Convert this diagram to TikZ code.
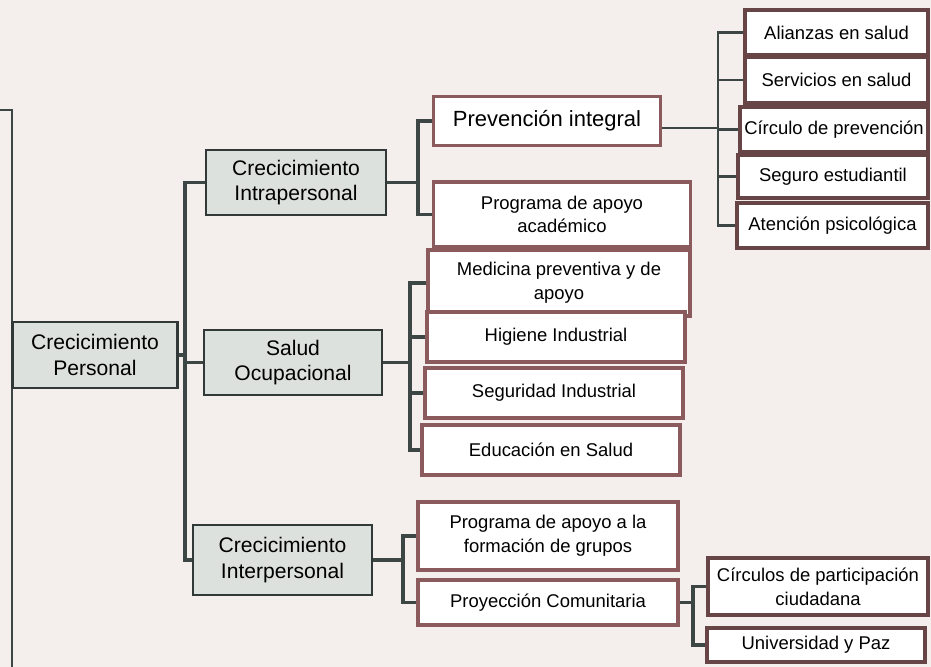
\documentclass[tikz,border=0pt]{standalone}
\usepackage{fontspec}
\setmainfont{Liberation Sans}
\definecolor{paper}{HTML}{F4EFED}
\definecolor{rama}{HTML}{3C4745}
\definecolor{grisbox}{HTML}{DCE1DE}
\definecolor{marron}{HTML}{8A5A5C}
\begin{document}
\begin{tikzpicture}[
            raiz/.style={rectangle,draw=rama!80!black,line width=1.4pt,fill=grisbox,
                    align=center,inner sep=2pt,font=\fontsize{12}{14.5}\selectfont},
            tema/.style={rectangle,draw=marron,line width=2pt,fill=white,
                    align=center,inner sep=2pt,font=\fontsize{10.5}{13.5}\selectfont},
            hoja/.style={rectangle,draw=marron!75!black,line width=1.8pt,fill=white,
                    align=center,inner sep=2pt,font=\fontsize{10.5}{13.5}\selectfont},
            conn/.style={draw=rama,line width=1.8pt},
        ]

        % Paper
        \fill[paper] (0,0) rectangle (18.62,-13.34);
        \useasboundingbox (0,0) rectangle (18.62,-13.34);

        % Cut edge on the left
        \draw[rama,line width=1.4pt] (0,-2.2) -- (0.24,-2.2) -- (0.24,-13.34);

        % Level 1
        \node[raiz,minimum width=3.3cm,minimum height=1.32cm] (per) at (1.9,-7.1) {Crecicimiento\\Personal};

        % Level 2
        \node[raiz,minimum width=3.6cm,minimum height=1.3cm] (intra) at (5.92,-3.65) {Crecicimiento\\Intrapersonal};
        \node[raiz,minimum width=3.56cm,minimum height=1.3cm] (salud) at (5.86,-7.25) {Salud\\Ocupacional};
        \node[raiz,minimum width=3.58cm,minimum height=1.4cm] (inter) at (5.65,-11.2) {Crecicimiento\\Interpersonal};

        % Level 3
        \node[tema,minimum width=4.54cm,minimum height=0.98cm,font=\fontsize{12.5}{15}\selectfont] (prev) at (10.94,-2.42) {Prevención integral};
        \node[tema,minimum width=5.14cm,minimum height=1.3cm] (acad) at (11.24,-4.29) {Programa de apoyo\\académico};
        \node[tema,minimum width=5.24cm,minimum height=1.32cm] (med) at (11.18,-5.66) {Medicina preventiva y de\\apoyo};
        \node[tema,minimum width=5.16cm,minimum height=1.0cm] (hig) at (11.12,-6.74) {Higiene Industrial};
        \node[tema,minimum width=5.16cm,minimum height=1.0cm] (seg) at (11.08,-7.86) {Seguridad Industrial};
        \node[tema,minimum width=5.16cm,minimum height=1.0cm] (edu) at (11.02,-9.0) {Educación en Salud};
        \node[tema,minimum width=5.2cm,minimum height=1.36cm] (grupos) at (10.96,-10.72) {Programa de apoyo a la\\formación de grupos};
        \node[tema,minimum width=5.2cm,minimum height=0.9cm] (proy) at (10.96,-12.05) {Proyección Comunitaria};

        % Level 4
        \node[hoja,minimum width=3.66cm,minimum height=0.9cm] (ali) at (16.73,-0.65) {Alianzas en salud};
        \node[hoja,minimum width=3.66cm,minimum height=0.92cm] (serv) at (16.73,-1.6) {Servicios en salud};
        \node[hoja,minimum width=3.76cm,minimum height=0.9cm] (circ) at (16.68,-2.59) {Círculo de prevención};
        \node[hoja,minimum width=3.8cm,minimum height=0.86cm] (seguro) at (16.66,-3.53) {Seguro estudiantil};
        \node[hoja,minimum width=3.82cm,minimum height=0.9cm] (aten) at (16.65,-4.51) {Atención psicológica};
        \node[hoja,minimum width=4.4cm,minimum height=1.14cm] (cpart) at (16.36,-11.73) {Círculos de participación\\ciudadana};
        \node[hoja,minimum width=4.36cm,minimum height=0.68cm] (univ) at (16.32,-12.9) {Universidad y Paz};

        % Junctions
        \coordinate (j1) at (3.7,-7.1);
        \coordinate (j2) at (8.36,-3.65);
        \coordinate (j3) at (8.2,-7.25);
        \coordinate (j4) at (8.06,-11.2);
        \coordinate (j5) at (14.36,-2.56);
        \coordinate (j6) at (13.86,-12.05);

        % Connectors
        \draw[conn] (per.east) -- (j1);
        \draw[conn] (intra.west) -| (j1) |- (inter.west);
        \draw[conn] (salud.west) -- (salud.west -| j1);

        \draw[conn] (intra.east) -- (j2);
        \draw[conn] (prev.west) -| (j2) |- (acad.west);

        \draw[conn] (salud.east) -- (j3);
        \draw[conn] (med.west) -| (j3) |- (edu.west);
        \draw[conn] (hig.west) -- (hig.west -| j3);
        \draw[conn] (seg.west) -- (seg.west -| j3);

        \draw[conn] (inter.east) -- (j4);
        \draw[conn] (grupos.west) -| (j4) |- (proy.west);

        \draw[conn,line width=1.2pt] (prev.east |- j5) -- (j5);
        \draw[conn,line width=1.2pt] (ali.west) -| (j5) |- (aten.west);
        \foreach \n in {serv,circ,seguro} {
                \draw[conn,line width=1.2pt] (\n.west) -- (\n.west -| j5);
            }

        \draw[conn] (proy.east) -- (j6);
        \draw[conn] (cpart.west) -| (j6) |- (univ.west);

    \end{tikzpicture}
\end{document}
